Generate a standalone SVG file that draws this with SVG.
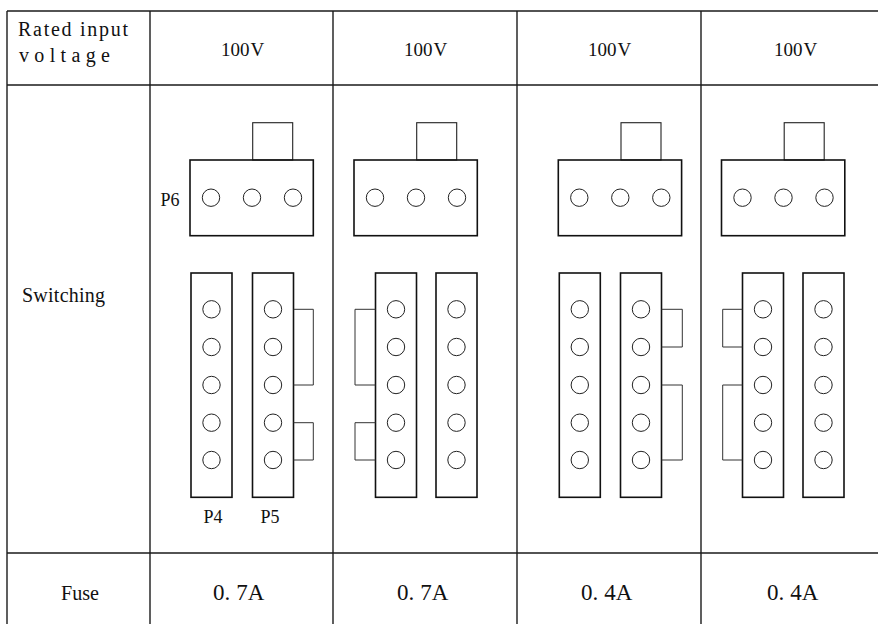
<svg xmlns="http://www.w3.org/2000/svg" width="878" height="624" viewBox="0 0 878 624">
<style>
.grid{stroke:#1a1a1a;stroke-width:1.4;fill:none}
.box{stroke:#111;stroke-width:1.6;fill:none}
.tab{stroke:#222;stroke-width:1.1;fill:none}
.pin{stroke:#222;stroke-width:1;fill:none}
.jmp{stroke:#333;stroke-width:1;fill:none}
.lbl{font-family:"Liberation Serif",serif;fill:#111}
.hd{font-size:20px}
.val{font-size:19px}
.fu{font-size:23px}
.pl{font-size:19px}
</style>
<rect width="878" height="624" fill="#fff"/>
<g id="table" class="grid">
<line x1="7" y1="11" x2="878" y2="11"/>
<line x1="7" y1="85" x2="878" y2="85"/>
<line x1="7" y1="553" x2="878" y2="553"/>
<line x1="7" y1="11" x2="7" y2="624"/>
<line x1="150" y1="11" x2="150" y2="624"/>
<line x1="333" y1="11" x2="333" y2="624"/>
<line x1="517" y1="11" x2="517" y2="624"/>
<line x1="701" y1="11" x2="701" y2="624"/>
</g>
<g id="row-labels" class="lbl hd">
<text x="18" y="36" textLength="110" lengthAdjust="spacing">Rated input</text>
<text x="19" y="62" textLength="91" lengthAdjust="spacing">voltage</text>
<text x="22" y="302" textLength="83" lengthAdjust="spacing">Switching</text>
<text x="61" y="600" textLength="38" lengthAdjust="spacingAndGlyphs">Fuse</text>
</g>
<g id="voltages" class="lbl val">
<text x="221" y="56">100<tspan dx="1">V</tspan></text>
<text x="404" y="56">100<tspan dx="1">V</tspan></text>
<text x="588" y="56">100<tspan dx="1">V</tspan></text>
<text x="774" y="56">100<tspan dx="1">V</tspan></text>
</g>
<g id="fuses" class="lbl fu">
<text x="213" y="600">0.<tspan dx="6">7A</tspan></text>
<text x="397" y="600">0.<tspan dx="6">7A</tspan></text>
<text x="581" y="600">0.<tspan dx="6">4A</tspan></text>
<text x="767" y="600">0.<tspan dx="6">4A</tspan></text>
</g>
<defs>
<g id="p6">
<rect class="tab" x="62.7" y="0" width="40" height="37.3"/>
<rect class="box" x="0" y="37.3" width="123.3" height="75.7"/>
<circle class="pin" cx="21" cy="75" r="8.7"/>
<circle class="pin" cx="62" cy="75" r="8.7"/>
<circle class="pin" cx="103" cy="75" r="8.7"/>
</g>
<g id="strip">
<rect class="box" x="0" y="0" width="41" height="224.3"/>
<circle class="pin" cx="20.5" cy="36.3" r="8.7"/>
<circle class="pin" cx="20.5" cy="74" r="8.7"/>
<circle class="pin" cx="20.5" cy="112" r="8.7"/>
<circle class="pin" cx="20.5" cy="149.7" r="8.7"/>
<circle class="pin" cx="20.5" cy="187" r="8.7"/>
</g>
</defs>
<g id="col1">
<use href="#p6" x="190" y="122.7"/>
<use href="#strip" x="191" y="273"/>
<use href="#strip" x="252.5" y="273"/>
<text class="lbl pl" x="160.5" y="206" textLength="19" lengthAdjust="spacingAndGlyphs">P6</text>
<text class="lbl pl" x="203.5" y="523" textLength="19" lengthAdjust="spacingAndGlyphs">P4</text>
<text class="lbl pl" x="260.5" y="523" textLength="19" lengthAdjust="spacingAndGlyphs">P5</text>
</g>
<g id="col2">
<use href="#p6" x="354" y="122.7"/>
<use href="#strip" x="375.5" y="273"/>
<use href="#strip" x="436" y="273"/>
</g>
<g id="col3">
<use href="#p6" x="558.3" y="122.7"/>
<use href="#strip" x="559.3" y="273"/>
<use href="#strip" x="620.5" y="273"/>
</g>
<g id="col4">
<use href="#p6" x="721.5" y="122.7"/>
<use href="#strip" x="742.5" y="273"/>
<use href="#strip" x="803" y="273"/>
</g>
<g id="jumpers" class="jmp">
<polyline points="293.5,309.3 313.3,309.3 313.3,385 293.5,385"/>
<polyline points="293.5,422.7 313.3,422.7 313.3,460 293.5,460"/>
<polyline points="375.5,309.3 355,309.3 355,385 375.5,385"/>
<polyline points="375.5,422.7 355,422.7 355,460 375.5,460"/>
<polyline points="661.5,309.3 682.3,309.3 682.3,347 661.5,347"/>
<polyline points="661.5,385 682.3,385 682.3,460 661.5,460"/>
<polyline points="742.5,309.3 722.7,309.3 722.7,347 742.5,347"/>
<polyline points="742.5,385 722.7,385 722.7,460 742.5,460"/>
</g>
</svg>
